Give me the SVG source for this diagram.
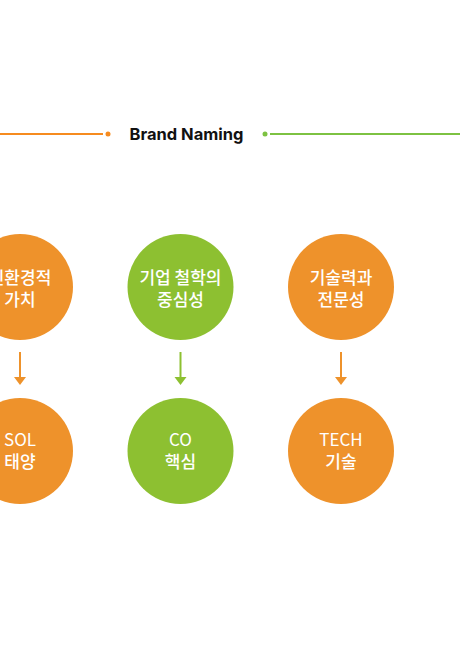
<svg xmlns="http://www.w3.org/2000/svg" width="460" height="646" viewBox="0 0 460 646">
<defs>
<style>
.o{fill:#EE922B}
.g{fill:#8DC031}
.t{font-family:"Noto Sans CJK KR","Noto Sans",sans-serif;font-size:17px;fill:#fff;text-anchor:middle;font-weight:500}
.l{font-weight:400}
.h{font-family:Inter,"Noto Sans",sans-serif;font-size:16.5px;font-weight:700;fill:#111;text-anchor:middle}
.ao{stroke:#EE922B;stroke-width:2;fill:none}
.ag{stroke:#8DC031;stroke-width:2;fill:none}
</style>
</defs>
<g id="header">
<line x1="0" y1="134" x2="103" y2="134" stroke="#F68B1F" stroke-width="2"/>
<circle cx="108" cy="134" r="2.5" fill="#F68B1F"/>
<text class="h" x="186.5" y="140">Brand Naming</text>
<circle cx="265" cy="134" r="2.5" fill="#7DC242"/>
<line x1="270" y1="134" x2="460" y2="134" stroke="#7DC242" stroke-width="2"/>
</g>
<g id="connectors">
<line class="ao" x1="20" y1="352" x2="20" y2="380"/>
<path d="M14,377 L26,377 L20,385 Z" fill="#EE922B"/>
<line class="ag" x1="180.5" y1="352" x2="180.5" y2="380"/>
<path d="M174.5,377 L186.5,377 L180.5,385 Z" fill="#8DC031"/>
<line class="ao" x1="341" y1="352" x2="341" y2="380"/>
<path d="M335,377 L347,377 L341,385 Z" fill="#EE922B"/>
</g>
<g id="n1"><circle class="o" cx="20" cy="287" r="53"/><text class="t" x="20" y="284">친환경적</text><text class="t" x="20" y="306">가치</text></g>
<g id="n2"><circle class="g" cx="180.5" cy="287" r="53"/><text class="t" x="180.5" y="284">기업 철학의</text><text class="t" x="180.5" y="306">중심성</text></g>
<g id="n3"><circle class="o" cx="341" cy="287" r="53"/><text class="t" x="341" y="284">기술력과</text><text class="t" x="341" y="306">전문성</text></g>
<g id="n4"><circle class="o" cx="20" cy="451" r="53"/><text class="t l" x="20" y="446">SOL</text><text class="t" x="20" y="468">태양</text></g>
<g id="n5"><circle class="g" cx="180.5" cy="451" r="53"/><text class="t l" x="180.5" y="446">CO</text><text class="t" x="180.5" y="468">핵심</text></g>
<g id="n6"><circle class="o" cx="341" cy="451" r="53"/><text class="t l" x="341" y="446">TECH</text><text class="t" x="341" y="468">기술</text></g>
</svg>
